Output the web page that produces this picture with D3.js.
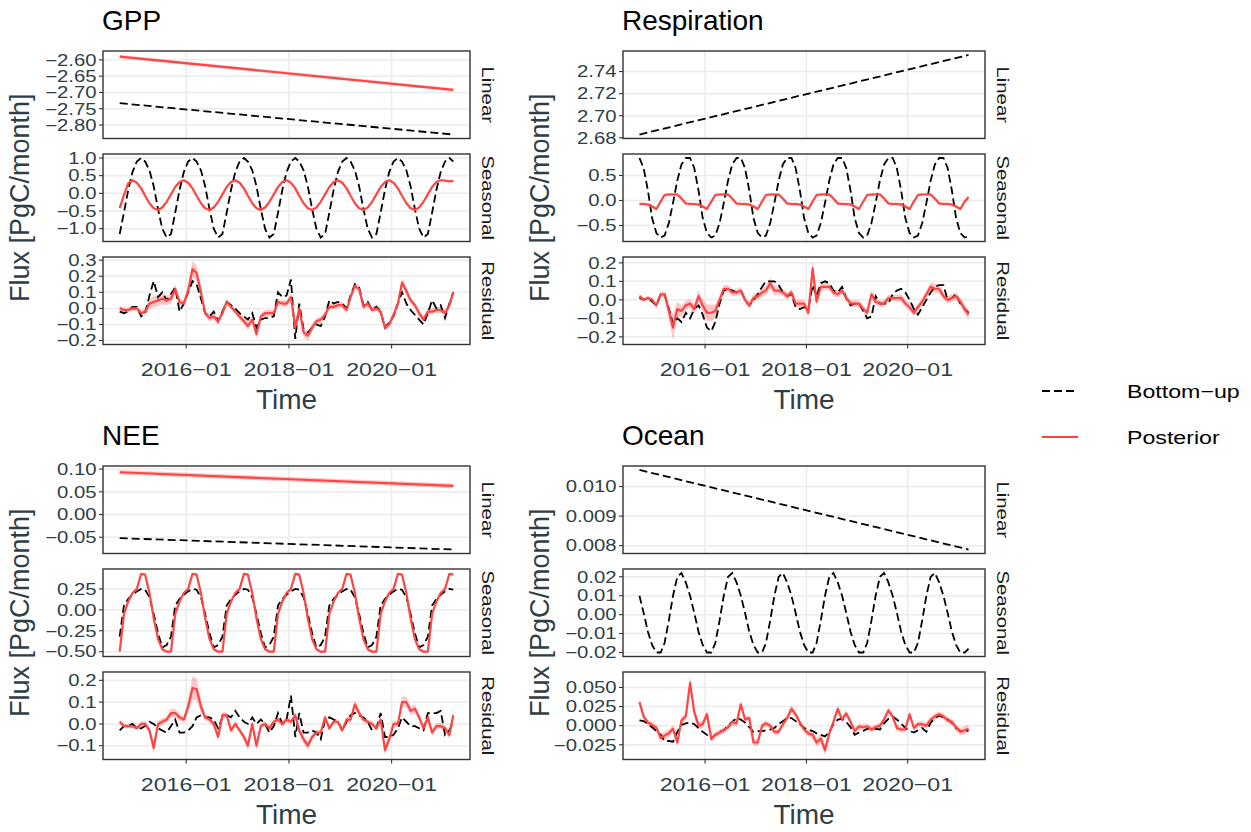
<!DOCTYPE html>
<html><head><meta charset="utf-8">
<script src="https://cdn.jsdelivr.net/npm/d3@7"></script>
<style>
body{margin:0;background:#fff;}
svg text{font-family:"Liberation Sans",Arial,Helvetica,sans-serif;}
</style></head><body>
<svg id="chart" width="1251" height="832"></svg>
<script>
// ---------- data ----------
const components = ["GPP", "Respiration", "NEE", "Ocean"];
const facetNames = ["Linear", "Seasonal", "Residual"];
const seriesNames = ["Bottom\u2212up", "Posterior"];
const xTickDates = ["2016-01-01", "2018-01-01", "2020-01-01"];
const xTickLabels = ["2016\u221201", "2018\u221201", "2020\u221201"];

// linear trends: value at first and last month
const gppLinearBU = [-2.733, -2.829];
const gppLinearPost = [-2.590, -2.692];
const respLinearBU = [2.683, 2.755];
const neeLinearBU = [-0.052, -0.077];
const neeLinearPost = [0.093, 0.063];
const oceanLinearBU = [0.01056, 0.00787];

// seasonal components (monthly, 2014-09 .. 2021-03)
const gppSeasonalBU = [-1.15,-0.55,0.10,0.60,0.90,1.00,0.90,0.65,0.20,-0.45,-1.00,-1.25,
 -1.15,-0.55,0.10,0.60,0.90,1.00,0.90,0.65,0.20,-0.45,-1.00,-1.25,
 -1.15,-0.55,0.10,0.60,0.90,1.00,0.90,0.65,0.20,-0.45,-1.00,-1.25,
 -1.15,-0.55,0.10,0.60,0.90,1.00,0.90,0.65,0.20,-0.45,-1.00,-1.25,
 -1.15,-0.55,0.10,0.60,0.90,1.00,0.90,0.65,0.20,-0.45,-1.00,-1.25,
 -1.15,-0.55,0.10,0.60,0.90,1.00,0.90,0.65,0.20,-0.45,-1.00,-1.25,
 -1.15,-0.55,0.10,0.60,0.90,1.00,0.90];
const gppSeasonalPost = [-0.42,-0.05,0.28,0.37,0.30,0.14,-0.07,-0.28,-0.42,-0.47,-0.40,-0.24,
 -0.03,0.18,0.32,0.37,0.30,0.14,-0.07,-0.28,-0.42,-0.47,-0.40,-0.24,
 -0.03,0.18,0.32,0.37,0.30,0.14,-0.07,-0.28,-0.42,-0.47,-0.40,-0.24,
 -0.03,0.18,0.32,0.37,0.30,0.14,-0.07,-0.28,-0.42,-0.47,-0.40,-0.24,
 -0.03,0.18,0.32,0.37,0.30,0.14,-0.07,-0.28,-0.42,-0.47,-0.40,-0.24,
 -0.03,0.18,0.32,0.37,0.30,0.14,-0.07,-0.28,-0.42,-0.47,-0.40,-0.24,
 -0.03,0.18,0.32,0.37,0.36,0.34,0.35];
const respSeasonalBU = [0.85,0.65,0.20,-0.35,-0.65,-0.74,-0.70,-0.45,-0.05,0.40,0.72,0.85,
 0.85,0.65,0.20,-0.35,-0.65,-0.74,-0.70,-0.45,-0.05,0.40,0.72,0.85,
 0.85,0.65,0.20,-0.35,-0.65,-0.74,-0.70,-0.45,-0.05,0.40,0.72,0.85,
 0.85,0.65,0.20,-0.35,-0.65,-0.74,-0.70,-0.45,-0.05,0.40,0.72,0.85,
 0.85,0.65,0.20,-0.35,-0.65,-0.74,-0.70,-0.45,-0.05,0.40,0.72,0.85,
 0.85,0.65,0.20,-0.35,-0.65,-0.74,-0.70,-0.45,-0.05,0.40,0.72,0.85,
 0.85,0.65,0.20,-0.35,-0.65,-0.74,-0.72];
const respSeasonalPost = [-0.07,-0.07,-0.08,-0.12,-0.17,-0.02,0.11,0.12,0.12,0.12,0.04,-0.06,
 -0.07,-0.07,-0.08,-0.12,-0.17,-0.02,0.11,0.12,0.12,0.12,0.04,-0.06,
 -0.07,-0.07,-0.08,-0.12,-0.17,-0.02,0.11,0.12,0.12,0.12,0.04,-0.06,
 -0.07,-0.07,-0.08,-0.12,-0.17,-0.02,0.11,0.12,0.12,0.12,0.04,-0.06,
 -0.07,-0.07,-0.08,-0.12,-0.17,-0.02,0.11,0.12,0.12,0.12,0.04,-0.06,
 -0.07,-0.07,-0.08,-0.12,-0.17,-0.02,0.11,0.12,0.12,0.12,0.04,-0.06,
 -0.07,-0.07,-0.08,-0.12,-0.17,-0.02,0.07];
const neeSeasonalBU = [-0.32,0.05,0.13,0.18,0.22,0.25,0.24,0.15,-0.05,-0.28,-0.45,-0.42,
 -0.32,0.05,0.13,0.18,0.22,0.25,0.24,0.15,-0.05,-0.28,-0.45,-0.42,
 -0.32,0.05,0.13,0.18,0.22,0.25,0.24,0.15,-0.05,-0.28,-0.45,-0.42,
 -0.32,0.05,0.13,0.18,0.22,0.25,0.24,0.15,-0.05,-0.28,-0.45,-0.42,
 -0.32,0.05,0.13,0.18,0.22,0.25,0.24,0.15,-0.05,-0.28,-0.45,-0.42,
 -0.32,0.05,0.13,0.18,0.22,0.25,0.24,0.15,-0.05,-0.28,-0.45,-0.42,
 -0.32,0.05,0.13,0.18,0.22,0.25,0.24];
const neeSeasonalPost = [-0.50,-0.05,0.10,0.20,0.25,0.43,0.42,0.20,-0.10,-0.35,-0.47,-0.50,
 -0.50,-0.05,0.10,0.20,0.25,0.43,0.42,0.20,-0.10,-0.35,-0.47,-0.50,
 -0.50,-0.05,0.10,0.20,0.25,0.43,0.42,0.20,-0.10,-0.35,-0.47,-0.50,
 -0.50,-0.05,0.10,0.20,0.25,0.43,0.42,0.20,-0.10,-0.35,-0.47,-0.50,
 -0.50,-0.05,0.10,0.20,0.25,0.43,0.42,0.20,-0.10,-0.35,-0.47,-0.50,
 -0.50,-0.05,0.10,0.20,0.25,0.43,0.42,0.20,-0.10,-0.35,-0.47,-0.50,
 -0.50,-0.05,0.10,0.20,0.25,0.43,0.42];
const oceanSeasonalBU = [0.010,0.001,-0.009,-0.016,-0.020,-0.020,-0.015,-0.003,0.010,0.020,0.022,0.017,
 0.010,0.001,-0.009,-0.016,-0.020,-0.020,-0.015,-0.003,0.010,0.020,0.022,0.017,
 0.010,0.001,-0.009,-0.016,-0.020,-0.020,-0.015,-0.003,0.010,0.020,0.022,0.017,
 0.010,0.001,-0.009,-0.016,-0.020,-0.020,-0.015,-0.003,0.010,0.020,0.022,0.017,
 0.010,0.001,-0.009,-0.016,-0.020,-0.020,-0.015,-0.003,0.010,0.020,0.022,0.017,
 0.010,0.001,-0.009,-0.016,-0.020,-0.020,-0.015,-0.003,0.010,0.020,0.022,0.017,
 0.010,0.001,-0.009,-0.016,-0.020,-0.020,-0.018];

// residual components
const gppResidualBU = [-0.02,-0.03,-0.02,0.01,0.01,-0.05,-0.03,0.08,0.17,0.07,
 0.10,0.05,0.09,0.13,-0.02,0.03,0.10,0.17,0.15,0.06,
 -0.03,-0.05,-0.02,-0.08,-0.02,0.04,0.02,0.00,-0.03,-0.05,
 -0.07,-0.03,-0.12,-0.07,-0.06,-0.06,-0.05,0.10,0.07,0.08,
 0.18,-0.19,0.03,-0.13,-0.15,-0.12,-0.10,-0.11,-0.05,0.05,
 0.03,0.04,0.03,0.00,0.08,0.15,0.13,0.02,0.04,-0.01,
 0.01,-0.02,-0.12,-0.09,-0.05,0.03,0.10,0.03,-0.01,-0.04,
 -0.07,-0.10,-0.03,0.05,0.00,0.02,-0.06,0.03,0.10];
const gppResidualPost = [0.00,-0.01,-0.01,0.00,0.00,-0.03,-0.02,0.03,0.04,0.05,
 0.06,0.05,0.06,0.12,0.04,0.03,0.11,0.245,0.22,0.10,
 -0.03,-0.06,-0.05,-0.08,-0.03,0.04,0.01,-0.02,-0.05,-0.08,
 -0.11,-0.07,-0.16,-0.05,-0.03,-0.03,-0.03,0.04,0.03,0.03,
 0.07,-0.12,0.00,-0.15,-0.17,-0.12,-0.08,-0.07,-0.04,0.01,
 0.01,0.02,0.02,-0.01,0.07,0.14,0.12,0.01,0.03,-0.01,
 0.00,-0.02,-0.12,-0.10,-0.04,0.03,0.16,0.11,0.05,0.02,
 -0.03,-0.07,-0.02,-0.02,-0.01,-0.01,-0.03,0.02,0.10];
const gppResidualBand = [0.015,0.015,0.015,0.015,0.015,0.018,0.02,0.03,0.035,0.035,
 0.035,0.03,0.03,0.03,0.02,0.02,0.03,0.05,0.045,0.035,
 0.02,0.02,0.02,0.02,0.02,0.018,0.018,0.018,0.02,0.02,
 0.025,0.02,0.03,0.02,0.02,0.02,0.02,0.02,0.02,0.02,
 0.02,0.025,0.02,0.03,0.03,0.025,0.02,0.02,0.02,0.018,
 0.018,0.018,0.018,0.018,0.02,0.02,0.02,0.018,0.018,0.018,
 0.018,0.018,0.02,0.02,0.02,0.02,0.025,0.025,0.02,0.02,
 0.02,0.02,0.018,0.018,0.018,0.018,0.02,0.02,0.02];
const respResidualBU = [0.01,0.00,0.01,-0.01,-0.03,0.03,0.03,-0.05,-0.13,-0.10,
 -0.12,-0.07,-0.10,-0.05,-0.03,-0.08,-0.15,-0.17,-0.12,-0.02,
 0.05,0.06,0.05,0.04,0.05,0.00,-0.03,0.00,0.03,0.07,
 0.10,0.10,0.10,0.08,0.04,0.02,0.03,-0.04,-0.05,-0.04,
 -0.05,0.08,0.02,0.09,0.10,0.09,0.05,0.04,0.07,0.01,
 -0.03,-0.02,-0.02,-0.06,-0.10,-0.09,0.02,-0.02,-0.02,-0.02,
 0.03,0.05,0.06,0.04,0.00,-0.05,-0.08,-0.04,0.00,0.04,
 0.07,0.08,0.08,0.00,0.01,0.03,-0.02,-0.05,-0.07];
const respResidualPost = [0.02,0.00,0.01,0.00,-0.03,0.03,0.03,-0.06,-0.15,-0.05,
 -0.06,-0.03,-0.02,-0.05,0.02,-0.03,-0.07,-0.07,-0.06,0.00,
 0.06,0.06,0.04,0.04,0.05,0.00,-0.03,0.01,0.02,0.04,
 0.05,0.09,0.05,0.05,0.04,0.02,0.04,-0.02,-0.02,-0.02,
 -0.07,0.17,-0.01,0.07,0.07,0.07,0.04,0.03,0.05,0.01,
 -0.02,-0.02,-0.02,-0.05,-0.07,0.03,-0.01,-0.02,-0.02,0.01,
 0.01,0.01,0.01,-0.02,-0.04,-0.07,-0.04,-0.01,0.03,0.07,
 0.06,0.06,0.02,0.00,0.01,0.02,-0.01,-0.05,-0.08];
const respResidualBand = [0.012,0.012,0.012,0.012,0.015,0.015,0.015,0.04,0.07,0.04,
 0.03,0.025,0.025,0.025,0.03,0.035,0.045,0.045,0.035,0.025,
 0.02,0.02,0.02,0.02,0.02,0.018,0.018,0.02,0.02,0.025,
 0.025,0.03,0.025,0.02,0.02,0.02,0.02,0.02,0.02,0.02,
 0.025,0.04,0.02,0.02,0.02,0.02,0.02,0.02,0.02,0.018,
 0.018,0.018,0.018,0.018,0.02,0.02,0.018,0.018,0.018,0.018,
 0.018,0.018,0.02,0.02,0.02,0.02,0.02,0.02,0.02,0.025,
 0.025,0.025,0.02,0.02,0.02,0.02,0.02,0.025,0.025];
const neeResidualBU = [-0.03,-0.01,-0.01,0.00,-0.02,-0.02,-0.01,0.01,0.00,-0.02,
 -0.03,-0.04,-0.01,0.02,-0.04,-0.04,-0.03,-0.01,0.03,0.04,
 0.03,0.03,0.02,-0.02,0.03,0.04,0.03,0.06,0.03,0.01,
 0.00,0.03,0.00,0.02,0.00,-0.04,-0.01,0.05,0.00,0.02,
 0.13,-0.06,0.05,-0.04,-0.04,-0.03,-0.04,-0.07,0.02,0.03,
 0.02,0.01,-0.03,0.01,0.04,0.05,0.04,0.03,0.01,-0.03,
 -0.02,0.05,-0.06,-0.06,-0.05,-0.02,0.03,0.01,-0.01,-0.01,
 -0.02,-0.03,0.05,0.05,0.05,0.06,-0.05,-0.03,0.01];
const neeResidualPost = [0.01,-0.01,-0.01,-0.01,-0.02,0.00,0.00,-0.03,-0.11,0.00,
 0.01,0.02,0.05,0.05,0.03,0.02,0.08,0.165,0.16,0.08,
 0.03,0.02,0.00,-0.06,0.04,0.04,-0.03,0.00,-0.03,-0.06,
 -0.10,0.00,-0.10,-0.01,0.00,-0.02,0.01,0.02,0.00,0.02,
 0.01,0.04,-0.03,-0.07,-0.10,-0.06,-0.04,-0.04,0.03,-0.02,
 0.01,0.01,-0.03,0.02,0.02,0.09,0.05,0.02,0.01,0.00,
 -0.02,0.02,-0.12,-0.07,0.00,0.00,0.10,0.10,0.06,0.07,
 0.03,-0.02,0.03,-0.04,-0.01,-0.01,-0.02,-0.05,0.04];
const neeResidualBand = [0.01,0.01,0.01,0.01,0.01,0.012,0.012,0.015,0.03,0.015,
 0.015,0.015,0.02,0.02,0.015,0.015,0.03,0.055,0.05,0.03,
 0.015,0.015,0.015,0.015,0.015,0.012,0.012,0.012,0.012,0.015,
 0.02,0.015,0.02,0.012,0.012,0.012,0.012,0.012,0.012,0.012,
 0.012,0.015,0.015,0.02,0.02,0.015,0.012,0.012,0.012,0.012,
 0.012,0.012,0.012,0.012,0.015,0.02,0.015,0.012,0.012,0.012,
 0.012,0.012,0.025,0.02,0.015,0.015,0.025,0.025,0.02,0.02,
 0.015,0.015,0.015,0.015,0.015,0.015,0.015,0.02,0.03];
const oceanResidualBU = [0.007,0.006,0.002,-0.002,-0.007,-0.012,-0.020,-0.020,-0.021,-0.008,
 0.001,0.003,0.004,0.002,-0.003,-0.008,-0.012,-0.017,-0.012,-0.008,
 -0.006,0.000,0.005,0.010,0.008,0.004,-0.002,-0.008,-0.007,-0.007,
 -0.006,-0.005,-0.003,0.002,0.006,0.010,0.010,0.006,0.002,-0.003,
 -0.005,-0.007,-0.010,-0.012,-0.014,-0.008,0.002,0.008,0.009,0.005,
 -0.002,-0.012,-0.009,-0.007,-0.004,-0.003,-0.004,-0.005,0.003,0.009,
 0.012,0.008,0.003,-0.003,-0.007,-0.009,-0.006,-0.003,-0.008,0.004,
 0.010,0.013,0.011,0.008,0.004,-0.003,-0.007,-0.007,-0.006];
const oceanResidualPost = [0.031,0.012,0.004,0.001,-0.003,-0.016,-0.013,-0.010,-0.004,-0.022,
 0.007,0.012,0.056,0.018,0.000,0.002,0.015,-0.017,-0.012,-0.009,
 -0.006,-0.002,0.005,0.003,0.028,0.008,0.010,-0.022,-0.022,0.000,
 0.003,0.000,-0.008,-0.008,0.002,0.010,0.022,0.015,0.004,-0.005,
 -0.010,-0.012,-0.022,-0.017,-0.032,-0.010,0.005,0.022,0.008,0.016,
 0.005,-0.007,-0.001,-0.002,-0.001,-0.005,-0.002,0.000,0.008,0.020,
 0.012,-0.003,-0.005,-0.005,0.015,-0.003,0.002,0.002,0.000,0.008,
 0.012,0.015,0.012,0.007,0.005,-0.002,-0.008,-0.006,-0.004];
const oceanResidualBand = [0.005,0.004,0.004,0.004,0.005,0.006,0.005,0.005,0.005,0.005,
 0.005,0.005,0.009,0.006,0.005,0.005,0.005,0.004,0.004,0.004,
 0.004,0.004,0.004,0.004,0.005,0.004,0.004,0.005,0.005,0.004,
 0.004,0.004,0.004,0.004,0.004,0.004,0.005,0.004,0.004,0.004,
 0.004,0.005,0.006,0.006,0.007,0.005,0.004,0.004,0.004,0.004,
 0.004,0.004,0.004,0.004,0.004,0.004,0.004,0.004,0.004,0.004,
 0.004,0.004,0.004,0.004,0.004,0.004,0.004,0.004,0.004,0.004,
 0.004,0.004,0.004,0.004,0.004,0.004,0.005,0.005,0.005];

// posterior uncertainty half-widths for trend and seasonal parts (Linear, Seasonal)
const gppBand = [0.005, 0.02];
const respBand = [0, 0.03];
const neeBand = [0.005, 0.01];
const oceanBand = [0, 0];

// y tick values
const gppTicks = [[-2.80,-2.75,-2.70,-2.65,-2.60], [-1,-0.5,0,0.5,1], [-0.2,-0.1,0,0.1,0.2,0.3]];
const respTicks = [[2.68,2.70,2.72,2.74], [-0.5,0,0.5], [-0.2,-0.1,0,0.1,0.2]];
const neeTicks = [[-0.05,0,0.05,0.10], [-0.5,-0.25,0,0.25], [-0.1,0,0.1,0.2]];
const oceanTicks = [[0.008,0.009,0.010], [-0.02,-0.01,0,0.01,0.02], [-0.025,0,0.025,0.05]];
const gppFormats = [".2f", ".1f", ".1f"];
const respFormats = [".2f", ".1f", ".1f"];
const neeFormats = [".2f", ".2f", ".1f"];
const oceanFormats = [".3f", ".2f", ".3f"];

// ---------- layout ----------
const RED = "#FF4444";
const AXIS_TXT = "#2F3E46";
const months = d3.utcMonth.range(new Date(Date.UTC(2014, 8, 1)), new Date(Date.UTC(2021, 3, 1)))
  .map(d => d3.utcDay.offset(d, 14));
const trendDates = [months[0], months[months.length - 1]];

const panelDefs = [
  {name: "GPP", x0: 103, x1: 470, y0: 51,
   series: [[gppLinearBU, gppLinearPost], [gppSeasonalBU, gppSeasonalPost], [gppResidualBU, gppResidualPost]],
   band: [gppBand[0], gppBand[1], gppResidualBand], ticks: gppTicks, fmts: gppFormats},
  {name: "Respiration", x0: 623, x1: 985, y0: 51,
   series: [[respLinearBU, null], [respSeasonalBU, respSeasonalPost], [respResidualBU, respResidualPost]],
   band: [respBand[0], respBand[1], respResidualBand], ticks: respTicks, fmts: respFormats},
  {name: "NEE", x0: 103, x1: 470, y0: 466,
   series: [[neeLinearBU, neeLinearPost], [neeSeasonalBU, neeSeasonalPost], [neeResidualBU, neeResidualPost]],
   band: [neeBand[0], neeBand[1], neeResidualBand], ticks: neeTicks, fmts: neeFormats},
  {name: "Ocean", x0: 623, x1: 985, y0: 466,
   series: [[oceanLinearBU, null], [oceanSeasonalBU, null], [oceanResidualBU, oceanResidualPost]],
   band: [oceanBand[0], oceanBand[1], oceanResidualBand], ticks: oceanTicks, fmts: oceanFormats}
];
const FH = 87.5, FGAP = 15.5;

const svg = d3.select("#chart");
svg.append("rect").attr("width", 1251).attr("height", 832).attr("fill", "#fff");

function txt(parent, x, y, s, o) {
  let tr = `translate(${x},${y})`;
  if (o.rot) tr += ` rotate(${o.rot})`;
  if (o.sx) tr += ` scale(${o.sx},1)`;
  const t = parent.append("text").attr("transform", tr)
    .attr("font-size", o.size).attr("text-anchor", o.anchor || "start")
    .attr("fill", o.fill || "#000").text(s);
  if (o.dy) t.attr("dy", o.dy);
  return t;
}

const xExtent = d3.extent(months);
const span = xExtent[1] - xExtent[0];
const xDomain = [new Date(+xExtent[0] - 0.05 * span), new Date(+xExtent[1] + 0.05 * span)];
const xTicks = xTickDates.map(s => new Date(s + "T00:00:00Z"));

panelDefs.forEach(p => {
  const g = svg.append("g");
  const x = d3.scaleUtc().domain(xDomain).range([p.x0, p.x1]);
  txt(g, p.x0 - 1, p.y0 - 21, p.name, {size: 28, fill: "#000"});
  facetNames.forEach((fname, fi) => {
    const top = p.y0 + fi * (FH + FGAP), bottom = top + FH;
    const [bu, post] = p.series[fi];
    const bw = p.band[fi];
    const wAt = i => Array.isArray(bw) ? bw[i] : bw;
    const dates = fi === 0 ? trendDates : months;
    const buPts = bu.map((v, i) => ({d: dates[i], v}));
    const postPts = post ? post.map((v, i) => ({d: dates[i], v, lo: v - wAt(i), hi: v + wAt(i)})) : [];
    const allV = buPts.map(d => d.v).concat(postPts.flatMap(d => [d.lo, d.hi]));
    const [mn, mx] = d3.extent(allV);
    const pad = (mx - mn) * 0.05;
    const y = d3.scaleLinear().domain([mn - pad, mx + pad]).range([bottom, top]);
    const fmt = d3.format(p.fmts[fi]);
    const ticks = p.ticks[fi];
    g.append("rect").attr("x", p.x0).attr("y", top).attr("width", p.x1 - p.x0).attr("height", FH).attr("fill", "#fff");
    g.append("g").selectAll("line").data(ticks).join("line")
      .attr("x1", p.x0).attr("x2", p.x1).attr("y1", d => y(d)).attr("y2", d => y(d))
      .attr("stroke", "#EBEBEB").attr("stroke-width", 1.5);
    g.append("g").selectAll("line").data(xTicks).join("line")
      .attr("x1", d => x(d)).attr("x2", d => x(d)).attr("y1", top).attr("y2", bottom)
      .attr("stroke", "#EBEBEB").attr("stroke-width", 1.5);
    if (post && (Array.isArray(bw) || bw > 0)) {
      g.append("path").datum(postPts)
        .attr("d", d3.area().x(d => x(d.d)).y0(d => y(d.lo)).y1(d => y(d.hi)))
        .attr("fill", RED).attr("opacity", 0.3);
    }
    const line = d3.line().x(d => x(d.d)).y(d => y(d.v));
    g.append("path").datum(buPts).attr("d", line).attr("fill", "none")
      .attr("stroke", "#000").attr("stroke-width", 1.8).attr("stroke-dasharray", "8,4");
    if (post) {
      g.append("path").datum(postPts).attr("d", line).attr("fill", "none")
        .attr("stroke", RED).attr("stroke-width", 2.2).attr("stroke-linejoin", "round");
    }
    g.append("rect").attr("x", p.x0).attr("y", top).attr("width", p.x1 - p.x0).attr("height", FH)
      .attr("fill", "none").attr("stroke", "#333").attr("stroke-width", 1.4);
    ticks.forEach(t => {
      g.append("line").attr("x1", p.x0 - 4).attr("x2", p.x0).attr("y1", y(t)).attr("y2", y(t))
        .attr("stroke", "#333").attr("stroke-width", 1.1);
      txt(g, p.x0 - 6.5, y(t), fmt(t), {size: 16, sx: 1.27, anchor: "end", dy: "0.36em", fill: AXIS_TXT});
    });
    txt(g, p.x1 + 18, (top + bottom) / 2, fname, {size: 16, sx: 1.27, rot: 90, anchor: "middle", dy: "0.36em", fill: "#1A1A1A"});
    if (fi === 2) {
      xTicks.forEach((d, i) => {
        g.append("line").attr("x1", x(d)).attr("x2", x(d)).attr("y1", bottom).attr("y2", bottom + 4)
          .attr("stroke", "#333").attr("stroke-width", 1.1);
        txt(g, x(d), bottom + 31, xTickLabels[i], {size: 19, sx: 1.22, anchor: "middle", fill: AXIS_TXT});
      });
      txt(g, (p.x0 + p.x1) / 2, bottom + 64.5, "Time", {size: 28, anchor: "middle", fill: AXIS_TXT});
    }
  });
  const yMid = p.y0 + (3 * FH + 2 * FGAP) / 2;
  txt(g, p.x0 - 74, yMid, "Flux [PgC/month]", {size: 27, rot: -90, anchor: "middle", fill: AXIS_TXT});
});

const lg = svg.append("g");
const legendY = [391, 437];
seriesNames.forEach((s, i) => {
  const l = lg.append("line").attr("x1", 1042).attr("x2", 1078).attr("y1", legendY[i]).attr("y2", legendY[i]);
  if (i === 0) l.attr("stroke", "#000").attr("stroke-width", 1.8).attr("stroke-dasharray", "8,4");
  else l.attr("stroke", RED).attr("stroke-width", 2.2);
  txt(lg, 1127, legendY[i], s, {size: 19, sx: 1.22, dy: "0.36em", fill: "#000"});
});
</script>
</body></html>
